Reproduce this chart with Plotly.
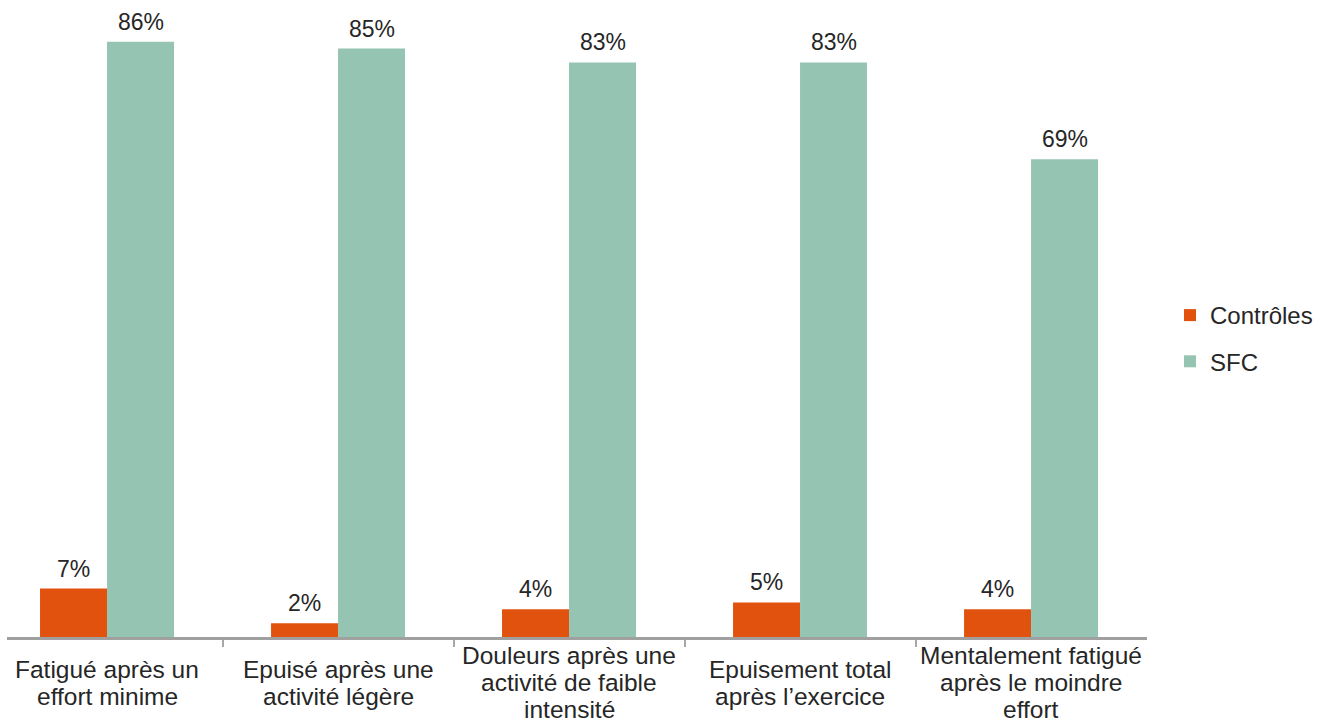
import plotly.graph_objects as go

categories = [
    "Fatigué après un<br>effort minime",
    "Epuisé après une<br>activité légère",
    "Douleurs après une<br>activité de faible<br>intensité",
    "Epuisement total<br>après l’exercice",
    "Mentalement fatigué<br>après le moindre<br>effort",
]
controles = [7, 2, 4, 5, 4]
sfc = [86, 85, 83, 83, 69]
series_names = ["Contrôles", "SFC"]
colors = ["#E2520F", "#96C4B2"]

W, H = 1326, 723
L, R, T, B = 7, 179, 14, 86
TEXT = "#262626"
FONT = "Liberation Sans, Arial, sans-serif"

x_idx = list(range(len(categories)))

fig = go.Figure()
for name, vals, col, grp in [(series_names[0], controles, colors[0], "a"),
                             (series_names[1], sfc, colors[1], "b")]:
    fig.add_trace(go.Bar(
        x=x_idx, y=vals, name=name, marker=dict(color=col, line=dict(width=0)),
        legendgroup=grp, hoverinfo="skip",
    ))

plot_w = W - L - R
unit_px = plot_w / (4.502 + 0.433)
bar_px = unit_px * 0.58 / 2

annotations = []
# value labels
for vals, sign in [(controles, -1), (sfc, 1)]:
    for i, v in enumerate(vals):
        annotations.append(dict(
            x=i, y=v, xref="x", yref="y", text=f"{v}%", showarrow=False,
            xshift=sign * bar_px / 2, yanchor="bottom", yshift=5,
            font=dict(size=23, color=TEXT, family=FONT),
        ))
# category labels, one annotation per line
LINE = 27
for i, cat in enumerate(categories):
    lines = cat.split("<br>")
    n = len(lines)
    for j, ln in enumerate(lines):
        annotations.append(dict(
            x=i, y=0, xref="x", yref="paper", text=ln, showarrow=False,
            yanchor="middle", yshift=-(45.5 + (j - (n - 1) / 2) * LINE),
            font=dict(size=24.5, color=TEXT, family=FONT),
        ))

fig.update_layout(
    width=W, height=H,
    margin=dict(l=L, r=R, t=T, b=B, pad=0),
    paper_bgcolor="white", plot_bgcolor="white",
    barmode="group", bargap=0.42, bargroupgap=0,
    font=dict(family=FONT, color=TEXT, size=24),
    xaxis=dict(
        type="linear", range=[-0.433, 4.502], showgrid=False, zeroline=False,
        showline=True, linecolor="#A0A0A0", linewidth=2.5,
        tickmode="array", tickvals=[0.5, 1.5, 2.5, 3.5], ticktext=["", "", "", ""],
        ticks="outside", ticklen=7, tickwidth=1.5, tickcolor="#A8A8A8",
        showticklabels=False, fixedrange=True,
    ),
    yaxis=dict(range=[0, 90], visible=False, fixedrange=True),
    legend=dict(
        x=(1170 - L) / plot_w, xanchor="left",
        y=(H - B - 293) / (H - T - B), yanchor="top",
        font=dict(size=24, color=TEXT, family=FONT),
        traceorder="grouped", tracegroupgap=12,
        bgcolor="rgba(0,0,0,0)", borderwidth=0,
    ),
    annotations=annotations,
    showlegend=True,
)

fig.write_html("out.html")
